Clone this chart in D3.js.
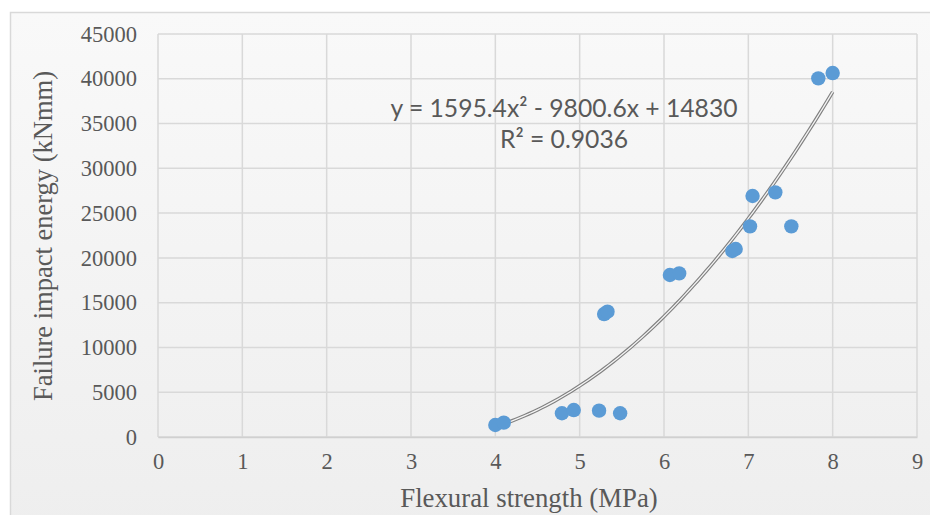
<!DOCTYPE html>
<html>
<head>
<meta charset="utf-8">
<script src="https://cdn.jsdelivr.net/npm/d3@7"></script>
<style>
  body { margin: 0; background: #ffffff; }
  svg { display: block; }
</style>
</head>
<body>
<script>
// data
var flexural = [4.00, 4.10, 4.79, 4.93, 5.23, 5.48, 5.29, 5.33, 6.07, 6.18, 6.81, 6.85, 7.02, 7.51, 7.05, 7.32, 7.83, 8.00]
var energy   = [1340, 1600, 2650, 3010, 2940, 2650, 13730, 13990, 18090, 18270, 20770, 20990, 23520, 23520, 26910, 27320, 40050, 40640]
var xTicks = [0, 1, 2, 3, 4, 5, 6, 7, 8, 9]
var yTicks = [0, 5000, 10000, 15000, 20000, 25000, 30000, 35000, 40000, 45000]
var trendCoef = [1595.4, -9800.6, 14830]   // a x^2 + b x + c
var trendLabel = ["y = 1595.4x\u00b2 - 9800.6x + 14830", "R\u00b2 = 0.9036"]

var width = 930, height = 515
var margin = {top: 34, left: 158, right: 13, bottom: 78}
var chartWidth = width - margin.left - margin.right
var chartHeight = height - margin.top - margin.bottom

var svg = d3.select("body").append("svg")
    .attr("width", width)
    .attr("height", height)

var defs = svg.append("defs")
var grad = defs.append("linearGradient")
    .attr("id", "bg").attr("x1", 0).attr("y1", 0).attr("x2", 0).attr("y2", 1)
grad.append("stop").attr("offset", "0%").attr("stop-color", "#f9f9f9")
grad.append("stop").attr("offset", "100%").attr("stop-color", "#eeeeee")

// frame
svg.append("rect")
    .attr("x", 10.5).attr("y", 12.5)
    .attr("width", 940).attr("height", 520)
    .attr("fill", "url(#bg)")
    .attr("stroke", "#d9d9d9")
    .attr("stroke-width", 1.5)

var x = d3.scaleLinear().domain([0, 9]).range([0, chartWidth])
var y = d3.scaleLinear().domain([0, 45000]).range([chartHeight, 0])

var chartLayer = svg.append("g")
    .attr("transform", "translate(" + [margin.left, margin.top] + ")")

// gridlines
chartLayer.append("g").selectAll("line")
    .data(yTicks).enter().append("line")
    .attr("x1", 0).attr("x2", chartWidth)
    .attr("y1", function(d){ return y(d) }).attr("y2", function(d){ return y(d) })
    .attr("stroke", "#d9d9d9").attr("stroke-width", 1.5)

chartLayer.append("g").selectAll("line")
    .data(xTicks).enter().append("line")
    .attr("y1", 0).attr("y2", chartHeight)
    .attr("x1", function(d){ return x(d) }).attr("x2", function(d){ return x(d) })
    .attr("stroke", "#d9d9d9").attr("stroke-width", 1.5)

// axes (tick labels only)
var xAxis = chartLayer.append("g")
    .attr("transform", "translate(0," + chartHeight + ")")
    .call(d3.axisBottom(x).tickValues(xTicks).tickSize(0).tickPadding(22).tickFormat(d3.format("d")))
var yAxis = chartLayer.append("g")
    .call(d3.axisLeft(y).tickValues(yTicks).tickSize(0).tickPadding(21).tickFormat(d3.format("d")))

xAxis.select(".domain").attr("stroke", "#d0d0d0").attr("stroke-width", 1.5)
yAxis.select(".domain").remove()
svg.selectAll(".tick text")
    .attr("fill", "#595959")
    .style("font-family", "'Liberation Serif', 'Times New Roman', serif")
    .style("font-size", "22.5px")
xAxis.selectAll(".tick text").attr("dy", "0.45em")

// trendline
var trendX = d3.extent(flexural)
var f = function(v){ return trendCoef[0] * v * v + trendCoef[1] * v + trendCoef[2] }
var trendPts = d3.range(trendX[0], trendX[1] + 0.001, 0.05).map(function(v){ return [v, f(v)] })
var line = d3.line()
    .x(function(d){ return x(d[0]) })
    .y(function(d){ return y(d[1]) })
    .curve(d3.curveMonotoneX)

chartLayer.append("path").datum(trendPts)
    .attr("d", line).attr("fill", "none")
    .attr("stroke", "#808080").attr("stroke-width", 3.6)
chartLayer.append("path").datum(trendPts)
    .attr("d", line).attr("fill", "none")
    .attr("stroke", "#f4f4f4").attr("stroke-width", 1.3)

// points
chartLayer.append("g").selectAll("circle")
    .data(d3.range(flexural.length)).enter().append("circle")
    .attr("cx", function(i){ return x(flexural[i]) })
    .attr("cy", function(i){ return y(energy[i]) })
    .attr("r", 7.2)
    .attr("fill", "#5b9bd5")

// trendline label
svg.append("g").selectAll("text")
    .data(trendLabel).enter().append("text")
    .attr("x", 564)
    .attr("y", function(d, i){ return 117 + i * 31 })
    .attr("text-anchor", "middle")
    .attr("fill", "#595959")
    .style("font-family", "Lato, 'Open Sans', sans-serif")
    .style("font-size", "24.7px")
    .text(function(d){ return d })

// axis titles
svg.append("text")
    .attr("x", 529)
    .attr("y", 507)
    .attr("text-anchor", "middle")
    .attr("fill", "#595959")
    .style("font-family", "'Liberation Serif', 'Times New Roman', serif")
    .style("font-size", "26.8px")
    .text("Flexural strength (MPa)")

svg.append("text")
    .attr("transform", "translate(52,236) rotate(-90)")
    .attr("text-anchor", "middle")
    .attr("fill", "#595959")
    .style("font-family", "'Liberation Serif', 'Times New Roman', serif")
    .style("font-size", "26.5px")
    .text("Failure impact energy (kNmm)")
</script>
</body>
</html>
